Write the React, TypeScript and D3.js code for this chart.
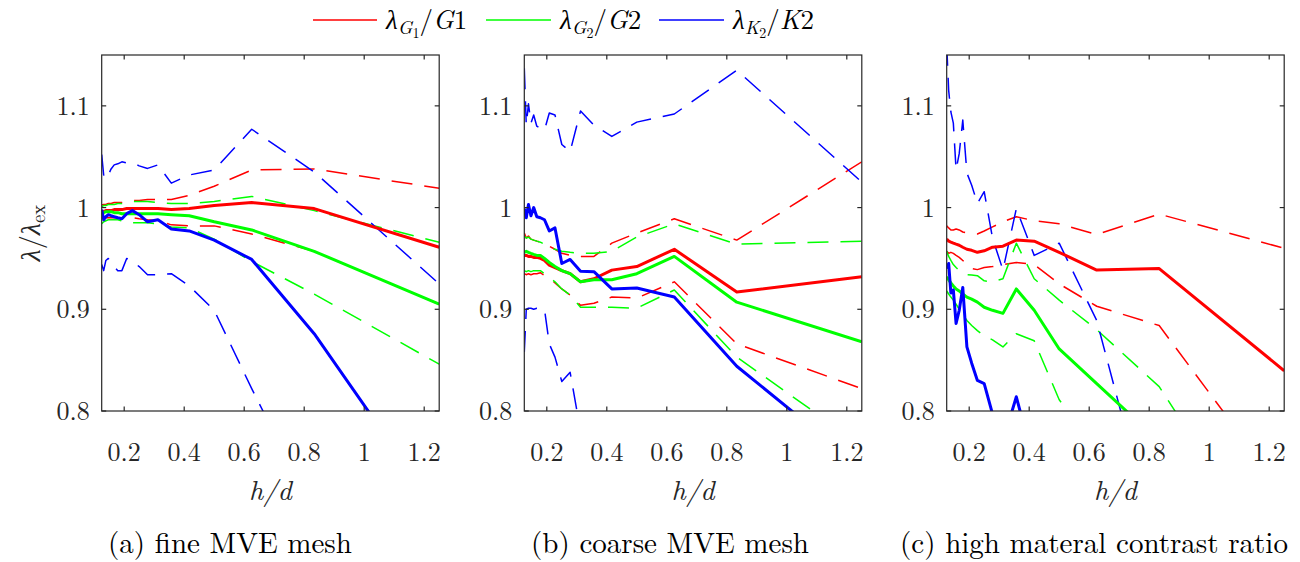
import React from 'react';
import * as d3 from 'd3';

// h/d sample points (ascending)
const HD = [0.125, 0.1316, 0.1389, 0.1471, 0.1563, 0.1667, 0.1786, 0.1923, 0.2083, 0.2273, 0.25, 0.2778, 0.3125, 0.3571, 0.4167, 0.5, 0.625, 0.8333, 1.25];

const X_TICKS = [0.2, 0.4, 0.6, 0.8, 1, 1.2];
const X_TICK_LABELS = ['0.2', '0.4', '0.6', '0.8', '1', '1.2'];
const Y_TICKS = [0.8, 0.9, 1, 1.1];
const Y_TICK_LABELS = ['0.8', '0.9', '1', '1.1'];
const CAPTIONS = ['(a) fine MVE mesh', '(b) coarse MVE mesh', '(c) high materal contrast ratio'];

// (a) fine MVE mesh
const aG1 = [0.996, 0.996, 0.997, 0.997, 0.997, 0.998, 0.998, 0.998, 0.999, 0.999, 0.999, 0.999, 0.999, 0.998, 0.999, 1.002, 1.005, 0.999, 0.961];
const aG1hi = [1.0025, 1.003, 1.003, 1.004, 1.004, 1.005, 1.005, 1.005, 1.006, 1.007, 1.007, 1.008, 1.008, 1.008, 1.012, 1.021, 1.037, 1.038, 1.019];
const aG1lo = [0.990, 0.990, 0.990, 0.990, 0.990, 0.990, 0.990, 0.990, 0.990, 0.990, 0.989, 0.988, 0.987, 0.983, 0.982, 0.982, 0.974, 0.957, 0.905];
const aG2 = [0.993, 0.995, 0.996, 0.996, 0.996, 0.995, 0.995, 0.994, 0.994, 0.994, 0.994, 0.994, 0.994, 0.993, 0.992, 0.986, 0.978, 0.957, 0.905];
const aG2hi = [1.001, 1.002, 1.002, 1.003, 1.003, 1.003, 1.004, 1.004, 1.005, 1.006, 1.006, 1.006, 1.005, 1.004, 1.004, 1.006, 1.011, 0.997, 0.966];
const aG2lo = [0.984, 0.986, 0.987, 0.988, 0.988, 0.988, 0.988, 0.987, 0.986, 0.985, 0.985, 0.985, 0.984, 0.981, 0.980, 0.969, 0.947, 0.915, 0.846];
const aK2 = [0.998, 0.988, 0.991, 0.993, 0.992, 0.991, 0.990, 0.989, 0.994, 0.997, 0.993, 0.986, 0.988, 0.979, 0.977, 0.968, 0.949, 0.876, 0.70];
const aK2hi = [1.052, 1.032, 1.036, 1.032, 1.038, 1.042, 1.043, 1.045, 1.044, 1.044, 1.041, 1.0385, 1.042, 1.024, 1.032, 1.037, 1.077, 1.035, 0.925];
const aK2lo = [0.944, 0.938, 0.948, 0.950, 0.945, 0.942, 0.938, 0.938, 0.950, 0.947, 0.942, 0.934, 0.934, 0.935, 0.923, 0.899, 0.822, 0.70, 0.50];

// (b) coarse MVE mesh
const bG1 = [0.953, 0.953, 0.952, 0.952, 0.951, 0.951, 0.950, 0.948, 0.9435, 0.941, 0.938, 0.935, 0.927, 0.930, 0.9385, 0.942, 0.959, 0.917, 0.932];
const bG1hi = [0.975, 0.970, 0.972, 0.969, 0.968, 0.967, 0.966, 0.965, 0.962, 0.959, 0.955, 0.953, 0.952, 0.952, 0.965, 0.975, 0.989, 0.968, 1.045];
const bG1lo = [0.935, 0.934, 0.935, 0.934, 0.935, 0.935, 0.936, 0.933, 0.930, 0.926, 0.920, 0.914, 0.904, 0.906, 0.912, 0.911, 0.927, 0.866, 0.822];
const bG2 = [0.956, 0.957, 0.956, 0.955, 0.954, 0.953, 0.953, 0.950, 0.946, 0.942, 0.938, 0.935, 0.927, 0.929, 0.929, 0.935, 0.952, 0.907, 0.868];
const bG2hi = [0.972, 0.970, 0.971, 0.969, 0.968, 0.967, 0.966, 0.964, 0.961, 0.959, 0.957, 0.956, 0.955, 0.955, 0.957, 0.971, 0.984, 0.964, 0.967];
const bG2lo = [0.938, 0.937, 0.938, 0.937, 0.938, 0.938, 0.938, 0.935, 0.931, 0.927, 0.920, 0.914, 0.902, 0.902, 0.902, 0.901, 0.919, 0.853, 0.766];
const bK2 = [0.999, 0.990, 1.003, 0.992, 1.000, 0.991, 0.990, 0.988, 0.977, 0.980, 0.945, 0.949, 0.9375, 0.937, 0.920, 0.921, 0.912, 0.844, 0.744];
const bK2hi = [1.137, 1.081, 1.102, 1.083, 1.091, 1.080, 1.078, 1.076, 1.093, 1.091, 1.062, 1.055, 1.095, 1.081, 1.070, 1.084, 1.092, 1.135, 1.025];
const bK2lo = [0.858, 0.900, 0.901, 0.901, 0.900, 0.901, 0.901, 0.900, 0.866, 0.853, 0.829, 0.838, 0.780, 0.750, 0.700, 0.650, 0.600, 0.500, 0.400];

// (c) high material contrast ratio
const cG1 = [0.969, 0.967, 0.966, 0.965, 0.964, 0.963, 0.961, 0.959, 0.958, 0.956, 0.9575, 0.961, 0.962, 0.968, 0.967, 0.956, 0.9386, 0.940, 0.8396];
const cG1hi = [0.982, 0.980, 0.978, 0.978, 0.979, 0.978, 0.976, 0.975, 0.974, 0.974, 0.977, 0.981, 0.986, 0.991, 0.987, 0.984, 0.9736, 0.9936, 0.960];
const cG1lo = [0.957, 0.955, 0.956, 0.955, 0.953, 0.951, 0.948, 0.944, 0.940, 0.939, 0.941, 0.942, 0.944, 0.946, 0.944, 0.925, 0.903, 0.884, 0.719];
const cG2 = [0.932, 0.929, 0.926, 0.923, 0.920, 0.918, 0.915, 0.912, 0.910, 0.907, 0.902, 0.899, 0.896, 0.920, 0.899, 0.861, 0.827, 0.770, 0.600];
const cG2hi = [0.957, 0.952, 0.948, 0.944, 0.941, 0.938, 0.935, 0.934, 0.9336, 0.933, 0.928, 0.927, 0.930, 0.965, 0.930, 0.909, 0.880, 0.824, 0.634];
const cG2lo = [0.918, 0.915, 0.912, 0.909, 0.905, 0.900, 0.895, 0.889, 0.884, 0.879, 0.874, 0.870, 0.863, 0.876, 0.869, 0.811, 0.763, 0.700, 0.600];
const cK2 = [0.940, 0.945, 0.916, 0.919, 0.886, 0.899, 0.9215, 0.863, 0.847, 0.830, 0.827, 0.797, 0.770, 0.814, 0.747, 0.700, 0.650, 0.600, 0.500];
const cK2hi = [1.16, 1.115, 1.094, 1.083, 1.037, 1.053, 1.086, 1.034, 1.022, 1.004, 1.0156, 0.970, 0.9386, 0.999, 0.953, 0.965, 0.889, 0.657, 0.50];

const RED = '#ff0000';
const GREEN = '#00ff00';
const BLUE = '#0000ff';

type Series = { values: number[]; color: string; dashed: boolean };

const PANEL_SERIES: Series[][] = [
  [
    { values: aG1hi, color: RED, dashed: true }, { values: aG1lo, color: RED, dashed: true },
    { values: aG2hi, color: GREEN, dashed: true }, { values: aG2lo, color: GREEN, dashed: true },
    { values: aK2hi, color: BLUE, dashed: true }, { values: aK2lo, color: BLUE, dashed: true },
    { values: aG1, color: RED, dashed: false }, { values: aG2, color: GREEN, dashed: false }, { values: aK2, color: BLUE, dashed: false },
  ],
  [
    { values: bG1hi, color: RED, dashed: true }, { values: bG1lo, color: RED, dashed: true },
    { values: bG2hi, color: GREEN, dashed: true }, { values: bG2lo, color: GREEN, dashed: true },
    { values: bK2hi, color: BLUE, dashed: true }, { values: bK2lo, color: BLUE, dashed: true },
    { values: bG1, color: RED, dashed: false }, { values: bG2, color: GREEN, dashed: false }, { values: bK2, color: BLUE, dashed: false },
  ],
  [
    { values: cG1hi, color: RED, dashed: true }, { values: cG1lo, color: RED, dashed: true },
    { values: cG2hi, color: GREEN, dashed: true }, { values: cG2lo, color: GREEN, dashed: true },
    { values: cK2hi, color: BLUE, dashed: true },
    { values: cG1, color: RED, dashed: false }, { values: cG2, color: GREEN, dashed: false }, { values: cK2, color: BLUE, dashed: false },
  ],
];

const FONT = 'Latin Modern Roman';
const AXIS = '#262626';

const PANEL_LEFT = [101.7, 524.3, 946.7];
const PANEL_W = 337.5;
const TOP = 55;
const BOTTOM = 411;
const CAPTION_X = [230, 670, 1094];

function Panel({ idx }: { idx: number }) {
  const left = PANEL_LEFT[idx];
  const x = d3.scaleLinear().domain([0.125, 1.25]).range([left, left + PANEL_W]);
  const y = d3.scaleLinear().domain([0.8, 1.15]).range([BOTTOM, TOP]);
  const line = d3.line<number>().x((_, i) => x(HD[i])).y((v) => y(v));
  const clipId = `clip${idx}`;
  const tl = 4.5;
  return (
    <g>
      <defs>
        <clipPath id={clipId}>
          <rect x={left} y={TOP} width={PANEL_W} height={BOTTOM - TOP} />
        </clipPath>
      </defs>
      <g clipPath={`url(#${clipId})`}>
        {PANEL_SERIES[idx].map((s, i) => (
          <path
            key={i}
            d={line(s.values) || ''}
            fill="none"
            stroke={s.color}
            strokeWidth={s.dashed ? 1.5 : 3}
            strokeDasharray={s.dashed ? '21 12' : undefined}
            strokeLinejoin="round"
          />
        ))}
      </g>
      <rect x={left} y={TOP} width={PANEL_W} height={BOTTOM - TOP} fill="none" stroke={AXIS} strokeWidth={1.2} />
      {X_TICKS.map((t, i) => (
        <g key={`xt${i}`}>
          <line x1={x(t)} x2={x(t)} y1={BOTTOM} y2={BOTTOM - tl} stroke={AXIS} strokeWidth={1.2} />
          <line x1={x(t)} x2={x(t)} y1={TOP} y2={TOP + tl} stroke={AXIS} strokeWidth={1.2} />
          <text x={x(t)} y={461} textAnchor="middle" fontFamily={FONT} fontSize={26} fill="#262626">
            {X_TICK_LABELS[i]}
          </text>
        </g>
      ))}
      {Y_TICKS.map((t, i) => (
        <g key={`yt${i}`}>
          <line x1={left} x2={left + tl} y1={y(t)} y2={y(t)} stroke={AXIS} strokeWidth={1.2} />
          <line x1={left + PANEL_W} x2={left + PANEL_W - tl} y1={y(t)} y2={y(t)} stroke={AXIS} strokeWidth={1.2} />
          <text x={left - 12} y={y(t) + 9} textAnchor="end" fontFamily={FONT} fontSize={26} fill="#262626">
            {Y_TICK_LABELS[i]}
          </text>
        </g>
      ))}
      <text x={left + PANEL_W / 2} y={500} textAnchor="middle" fontFamily={FONT} fontSize={28} fontStyle="italic" fill="#262626">
        h/d
      </text>
      <text x={CAPTION_X[idx]} y={553} textAnchor="middle" fontFamily={FONT} fontSize={29} fill="#000">
        {CAPTIONS[idx]}
      </text>
    </g>
  );
}

const LEGEND = [
  { color: RED, sub: 'G', subsub: '1', den: 'G', denSub: '1', x1: 313, x2: 377, tx: 386 },
  { color: GREEN, sub: 'G', subsub: '2', den: 'G', denSub: '2', x1: 486, x2: 551, tx: 560 },
  { color: BLUE, sub: 'K', subsub: '2', den: 'K', denSub: '2', x1: 659, x2: 724, tx: 733 },
];

export default function App() {
  return (
    <svg width={1300} height={562} style={{ position: 'absolute', left: 0, top: 0, background: '#fff' }}>
      <rect width={1300} height={562} fill="#fff" />
      {[0, 1, 2].map((i) => (
        <Panel key={i} idx={i} />
      ))}
      <text transform="translate(40,233) rotate(-90)" textAnchor="middle" fontFamily={FONT} fontSize={28} fill="#262626">
        <tspan fontStyle="italic">λ</tspan>
        <tspan>/</tspan>
        <tspan fontStyle="italic">λ</tspan>
        <tspan fontSize={19} dy={5}>ex</tspan>
      </text>
      {LEGEND.map((l, i) => (
        <g key={i}>
          <line x1={l.x1} x2={l.x2} y1={20} y2={20} stroke={l.color} strokeWidth={1.5} />
          <text x={l.tx} y={29} fontFamily={FONT} fontSize={27} fill="#000">
            <tspan fontStyle="italic">λ</tspan>
            <tspan fontStyle="italic" fontSize={19} dy={5}>{l.sub}</tspan>
            <tspan fontSize={14} dy={4}>{l.subsub}</tspan>
            <tspan dy={-9}>/</tspan>
            <tspan fontStyle="italic">{l.den}</tspan>
            <tspan>{l.denSub}</tspan>
          </text>
        </g>
      ))}
    </svg>
  );
}
